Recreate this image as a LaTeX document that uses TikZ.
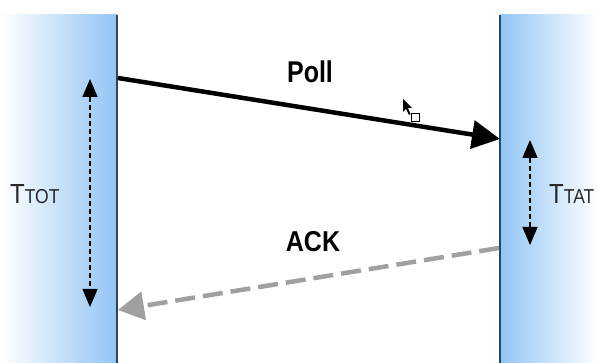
\documentclass[tikz,border=0pt]{standalone}
\usepackage{fontspec}
\setmainfont{Liberation Sans}
\usetikzlibrary{arrows.meta}
\definecolor{barblue}{RGB}{146,197,245}
\definecolor{barline}{RGB}{45,68,95}
\definecolor{ackgray}{RGB}{160,160,160}
\definecolor{labgray}{RGB}{40,40,40}
\tikzset{
  bar line/.style={barline, line width=1.4pt},
  timebar/.style={dash pattern=on 5pt off 3pt, line width=1.4pt, black,
    {Triangle[length=18pt,width=15pt]}-{Triangle[length=18pt,width=15pt]}},
  msgtext/.style={font=\fontsize{25}{25}\selectfont\bfseries, inner sep=0pt},
}
\newcommand{\tlab}[2]{{\fontsize{24}{24}\selectfont #1}{\fontsize{17.5}{17.5}\selectfont #2}}
\begin{document}
\begin{tikzpicture}[x=1pt,y=-1pt]
\useasboundingbox (0,0) rectangle (598,363);
\fill[white] (0,0) rectangle (598,363);
% bars
\shade[left color=white, right color=barblue] (0,15) rectangle (117,363);
\shade[left color=barblue, right color=white] (500,15) rectangle (598,363);
\draw[bar line] (117,15) -- (117,363);
\draw[bar line] (500,15) -- (500,363);
% coordinates
\coordinate (pollS) at (118,78);
\coordinate (pollE) at (500,139);
\coordinate (ackS) at (499,248);
\coordinate (ackE) at (118,310);
\coordinate (totT) at (90,79);
\coordinate (totB) at (90,307);
\coordinate (tatT) at (530,140);
\coordinate (tatB) at (530,245);
% messages
\draw[line width=4.5pt, -{Triangle[length=28pt,width=28pt]}] (pollS) -- (pollE);
\draw[ackgray, line width=4.5pt, dash pattern=on 20pt off 8pt, -{Triangle[length=26pt,width=28pt]}] (ackS) -- (ackE);
% time bars
\draw[timebar] (totT) -- (totB);
\draw[timebar] (tatT) -- (tatB);
% labels
\node[msgtext] (poll) at (310,72) {\scalebox{1}[1.2]{Poll}};
\node[msgtext] (ack) at (313,242) {\scalebox{1}[1.15]{ACK}};
\node[anchor=base west, inner sep=0pt, text=labgray] (ttot) at (10,204) {\scalebox{1}[1.15]{\tlab{T}{TOT}}};
\node[anchor=base west, inner sep=0pt, text=labgray] (ttat) at (549,204) {\scalebox{1}[1.15]{\tlab{T}{TAT}}};
% cursor artifact
\fill[black] (403,99) -- (403,112) -- (406,109) -- (409,115) -- (410.5,114) -- (408,108) -- (412,108) -- cycle;
\draw[black, line width=0.8pt] (411,113) rectangle (419,121);
\end{tikzpicture}
\end{document}
